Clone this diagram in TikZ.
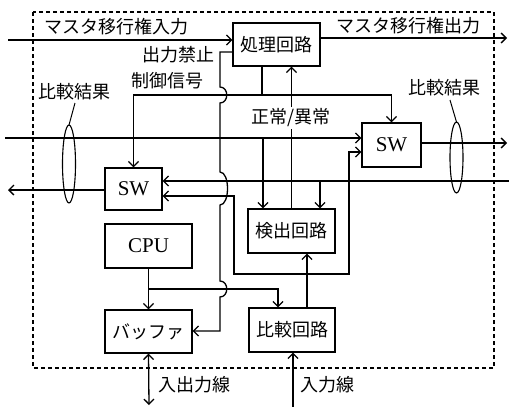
\documentclass[tikz,border=0pt]{standalone}
\usepackage{fontspec}
\setmainfont{Liberation Serif}
\newfontfamily\jp{Noto Sans CJK JP}
\usetikzlibrary{arrows.meta}
\begin{document}
\begin{tikzpicture}[x=1pt,y=-1pt,line width=1.3pt,
  box/.style={draw,line width=1.3pt,inner sep=0pt,font=\jp\fontsize{18}{20}\selectfont},
  latinbox/.style={draw,line width=1.3pt,inner sep=0pt,font=\fontsize{21}{23}\selectfont},
  lbl/.style={inner sep=0pt,font=\jp\fontsize{18}{20}\selectfont},
  arr/.style={-{Straight Barb[length=5pt,width=10pt]}},
  darr/.style={{Straight Barb[length=5pt,width=10pt]}-{Straight Barb[length=5pt,width=10pt]}},
  frame/.style={line width=1.4pt,dash pattern=on 4pt off 3pt}]
\useasboundingbox (0,0) rectangle (509,407);
% frame
\draw[frame] (33,12) rectangle (494,368);
% boxes
\node[box,minimum width=87pt,minimum height=43pt] (proc) at (276.5,44.5) {処理回路};
\node[latinbox,minimum width=59pt,minimum height=44pt] (swR) at (391.5,145) {SW};
\node[latinbox,minimum width=57pt,minimum height=42pt] (swL) at (133.5,189) {SW};
\node[box,minimum width=87pt,minimum height=44pt] (det) at (291.5,231) {検出回路};
\node[latinbox,minimum width=87pt,minimum height=44pt] (cpu) at (148.5,246) {CPU};
\node[box,minimum width=86pt,minimum height=44pt] (cmp) at (292,330) {比較回路};
\node[box,minimum width=87pt,minimum height=43pt] (buf) at (148.5,331.5) {バッファ};
% free end points
\coordinate (minL) at (8,40);
\coordinate (moutR) at (507,38);
\coordinate (inL) at (5,138);
\coordinate (inR) at (509,181);
\coordinate (outL) at (8,190);
\coordinate (outR) at (507,143);
\coordinate (ioB) at (149,405);
\coordinate (inB) at (293,407);
% master transfer
\draw[arr] (minL) -- (proc.west |- minL);
\draw[arr] (proc.east |- moutR) -- (moutR);
% output inhibit control signal
\draw[arr] (proc.west |- 0,52) -- (220,52) -- (220,87)
  .. controls (229,87) and (229,103) .. (220,103) -- (220,172)
  .. controls (230,172) and (230,205) .. (220,205) -- (220,281)
  .. controls (229,281) and (229,297) .. (220,297) -- (220,331) -- (buf.east |- 0,331);
% processing -> both SW
\draw (proc.south -| 262,0) -- (262,95);
\draw[arr] (262,95) -| (swL.north);
\draw[arr] (262,95) -| (swR.north);
% detection -> processing
\draw[arr] (det.north) -- (det.north |- proc.south);
\node[lbl,fill=white,inner xsep=1pt,inner ysep=2pt] (ok) at (291,118) {正常/異常};
% input lines
\draw[arr] (inL) -- (swR.west |- inL);
\draw[arr] (263,138) -- (det.north -| 263,0);
\draw[arr] (inR) -- (swL.east |- inR);
\draw[arr] (320,181) -- (det.north -| 320,0);
% loop between SWs
\draw[darr] (swL.east |- 0,196) -| (234,274) -| (349,152) -- (swR.west |- 0,152);
% SW outputs
\draw[arr] (swR.east |- outR) -- (outR);
\draw[arr] (swL.west |- outL) -- (outL);
% CPU
\draw[arr] (cpu.south) -- (buf.north);
\draw[arr] (149,289) -| (cmp.north -| 278,0);
\draw[arr] (cmp.north -| 307,0) -- (det.south -| 307,0);
\draw[arr] (inB) -- (cmp.south -| inB);
\draw[darr] (buf.south) -- (ioB);
% ellipses
\draw[line width=1.1pt] (69,164) ellipse [x radius=6.5, y radius=39];
\draw[line width=1.1pt] (456.5,157.5) ellipse [x radius=6.5, y radius=35.5];
\draw[line width=1pt] (69,125) -- (75,103);
\draw[line width=1pt] (456.5,122) -- (450,100);
% labels
\node[lbl] (l1) at (117,27) {マスタ移行権入力};
\node[lbl] (l2) at (408,26) {マスタ移行権出力};
\node[lbl] (l3) at (178,55) {出力禁止};
\node[lbl] (l4) at (167,81) {制御信号};
\node[lbl] (l5) at (74,92) {比較結果};
\node[lbl] (l6) at (444,88) {比較結果};
\node[lbl] (l7) at (194,385) {入出力線};
\node[lbl] (l8) at (327,385) {入力線};
\end{tikzpicture}
\end{document}
